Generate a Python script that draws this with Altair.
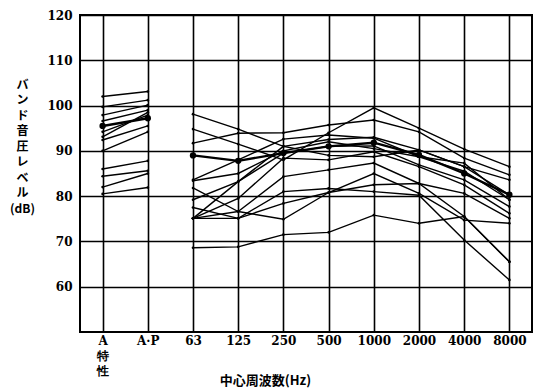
import altair as alt
import pandas as pd

# Frequency categories (overall A-weighted / A·P levels, then octave bands)
categories = ["A特性", "A·P", "63", "125", "250", "500", "1000", "2000", "4000", "8000"]
overall_cats = categories[:2]
band_cats = categories[2:]

# Overall levels (A特性, A·P) for each measured source, dB
overall_levels = [
    [102.0, 103.1],
    [99.7, 101.2],
    [97.9, 100.1],
    [96.6, 99.0],
    [94.2, 97.9],
    [93.1, 98.5],
    [92.4, 95.5],
    [90.0, 94.2],
    [86.0, 87.8],
    [84.4, 85.6],
    [82.0, 85.0],
    [80.5, 81.9],
]

# Octave-band levels 63 Hz ... 8000 Hz for each measured source, dB
band_levels = [
    [98.1, 94.8, 91.0, 92.5, 93.0, 90.2, 86.5, 83.6],
    [94.8, 91.5, 88.0, 94.0, 99.5, 95.0, 90.4, 86.5],
    [91.7, 93.9, 94.0, 95.7, 96.8, 94.2, 88.4, 84.7],
    [83.6, 88.0, 92.6, 93.5, 92.8, 88.7, 87.3, 79.2],
    [79.2, 83.2, 89.5, 91.0, 91.1, 86.9, 83.6, 77.7],
    [75.1, 79.5, 88.4, 88.0, 89.8, 86.5, 82.5, 76.2],
    [75.1, 83.2, 91.0, 89.0, 88.7, 90.2, 86.5, 80.3],
    [83.4, 85.0, 90.0, 92.0, 90.5, 88.7, 85.5, 79.2],
    [81.8, 76.6, 84.3, 85.8, 87.3, 82.8, 80.6, 75.1],
    [75.1, 76.6, 74.9, 80.8, 85.0, 80.6, 74.7, 74.0],
    [77.5, 75.1, 78.4, 80.8, 82.5, 82.8, 75.5, 65.5],
    [75.1, 75.1, 81.0, 81.7, 81.0, 80.2, 70.3, 61.5],
    [68.6, 68.8, 71.5, 72.0, 75.8, 74.0, 75.5, 65.5],
]

# Average curve
mean_overall = [95.5, 97.2]
mean_band = [89.0, 87.8, 89.5, 91.0, 91.8, 89.1, 85.0, 80.3]

rows = []
for i, vals in enumerate(overall_levels):
    for c, v in zip(overall_cats, vals):
        rows.append({"key": f"o{i}", "cat": c, "idx": categories.index(c), "level": v, "mean": False})
for i, vals in enumerate(band_levels):
    for c, v in zip(band_cats, vals):
        rows.append({"key": f"b{i}", "cat": c, "idx": categories.index(c), "level": v, "mean": False})
for c, v in zip(overall_cats, mean_overall):
    rows.append({"key": "m_o", "cat": c, "idx": categories.index(c), "level": v, "mean": True})
for c, v in zip(band_cats, mean_band):
    rows.append({"key": "m_b", "cat": c, "idx": categories.index(c), "level": v, "mean": True})
df = pd.DataFrame(rows)

num_font = "DejaVu Serif"
jp_font = "Noto Sans CJK JP"

x_enc = alt.X(
    "cat:N",
    sort=categories,
    scale=alt.Scale(type="point", padding=0.5),
    axis=alt.Axis(
        title="中心周波数(Hz)",
        titleFont=jp_font,
        titleFontSize=13,
        titleFontWeight="bold",
        titleX=185,
        titleY=55,
        titleBaseline="bottom",
        labelFont=num_font,
        labelFontWeight="bold",
        labelFontSize=12,
        labelAngle=0,
        labelPadding=3,
        labelLineHeight=15,
        labelExpr="datum.value == 'A特性' ? ['A', '特', '性'] : datum.value",
        ticks=False,
        domain=False,
        grid=True,
        gridColor="black",
        gridWidth=1.6,
        gridOpacity=1,
    ),
)
y_enc = alt.Y(
    "level:Q",
    scale=alt.Scale(domain=[50, 120], nice=False, zero=False),
    axis=alt.Axis(
        values=[60, 70, 80, 90, 100, 110, 120],
        title=["バ", "ン", "ド", "音", "圧", "レ", "ベ", "ル", "(dB)"],
        titleFont=jp_font,
        titleFontSize=12,
        titleFontWeight="bold",
        titleAngle=0,
        titleAlign="center",
        titleBaseline="top",
        titleLineHeight=15.5,
        titleX=-58,
        titleY=64,
        labelFont=num_font,
        labelFontWeight="bold",
        labelFontSize=12,
        labelPadding=8,
        ticks=False,
        domain=False,
        grid=True,
        gridColor="black",
        gridWidth=1.6,
        gridOpacity=1,
    ),
)

base = alt.Chart(df).encode(x=x_enc, y=y_enc, detail="key:N", order=alt.Order("idx:Q"))

lines = base.transform_filter("!datum.mean").mark_line(color="black", strokeWidth=1.4)
dots = base.transform_filter("!datum.mean").mark_point(
    filled=True, color="black", size=7, opacity=1
)
mean_line = base.transform_filter("datum.mean").mark_line(color="black", strokeWidth=2.4)
mean_dots = base.transform_filter("datum.mean").mark_point(
    filled=True, color="black", size=40, opacity=1
)

chart = (
    alt.layer(lines, dots, mean_line, mean_dots)
    .properties(
        width=452,
        height=317,
        autosize=alt.AutoSizeParams(type="none"),
        padding={"left": 80, "top": 15, "right": 5, "bottom": 58},
        background="white",
    )
    .configure_view(stroke="black", strokeWidth=2)
)

chart.save("out.html", embed_options={"renderer": "svg", "actions": False})
